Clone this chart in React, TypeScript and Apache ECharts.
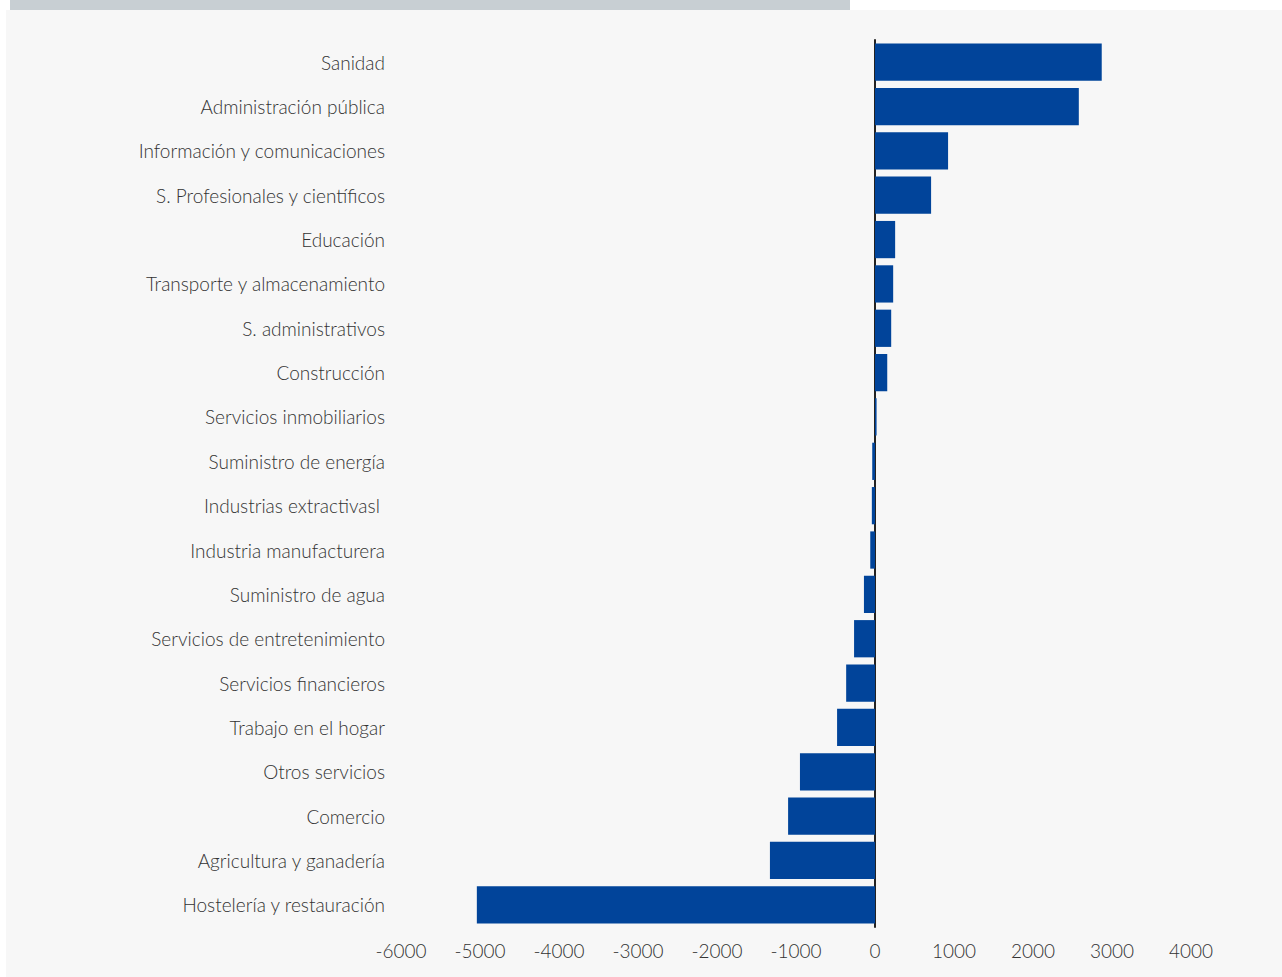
import React, { useEffect, useRef } from "react";
import * as echarts from "echarts";

const categories = [
  "Sanidad",
  "Administración pública",
  "Información y comunicaciones",
  "S. Profesionales y científicos",
  "Educación",
  "Transporte y almacenamiento",
  "S. administrativos",
  "Construcción",
  "Servicios inmobiliarios",
  "Suministro de energía",
  "Industrias extractivasl ",
  "Industria manufacturera",
  "Suministro de agua",
  "Servicios de entretenimiento",
  "Servicios financieros",
  "Trabajo en el hogar",
  "Otros servicios",
  "Comercio",
  "Agricultura y ganadería",
  "Hostelería y restauración",
];

const values = [
  2870, 2580, 925, 710, 255, 230, 205, 155, 20, -35, -40, -60, -140, -265,
  -365, -480, -950, -1100, -1330, -5040,
];

const W = 1282;
const H = 977;

export default function App() {
  const ref = useRef<HTMLDivElement>(null);
  useEffect(() => {
    if (!ref.current) return;
    const chart = echarts.init(ref.current, undefined, { renderer: "svg" });
    const font = "Lato, 'Open Sans', sans-serif";
    chart.setOption({
      animation: false,
      backgroundColor: "#ffffff",
      graphic: [
        {
          type: "rect",
          z: -10,
          shape: { x: 6, y: 10, width: W - 6, height: H - 10 },
          style: { fill: "#f7f7f7" },
        },
        {
          type: "rect",
          z: -10,
          shape: { x: 10, y: 0, width: 840, height: 10 },
          style: { fill: "#c8cfd3" },
        },
      ],
      grid: {
        left: 401,
        right: 91,
        top: 40,
        bottom: 50,
        containLabel: false,
        outerBoundsMode: "none",
      },
      xAxis: {
        type: "value",
        min: -6000,
        max: 4000,
        interval: 1000,
        axisLine: { show: false },
        axisTick: { show: false },
        splitLine: { show: false },
        axisLabel: {
          color: "#333333",
          fontSize: 19,
          fontFamily: font,
          fontWeight: 300,
          margin: 14,
          formatter: (v: number) => String(v),
        },
      },
      yAxis: {
        type: "category",
        data: categories,
        inverse: true,
        axisLine: { show: true, onZero: true, lineStyle: { color: "#222222", width: 2 } },
        axisTick: { show: false },
        splitLine: { show: false },
        axisLabel: {
          color: "#333333",
          fontSize: 19,
          fontFamily: font,
          fontWeight: 300,
          margin: 16,
        },
      },
      series: [
        {
          type: "bar",
          data: values,
          barCategoryGap: "16%",
          itemStyle: { color: "#01449a" },
          z: 1,
        },
      ],
    });
    return () => chart.dispose();
  }, []);
  return (
    <div
      ref={ref}
      style={{ position: "fixed", left: 0, top: 0, width: W, height: H }}
    />
  );
}
